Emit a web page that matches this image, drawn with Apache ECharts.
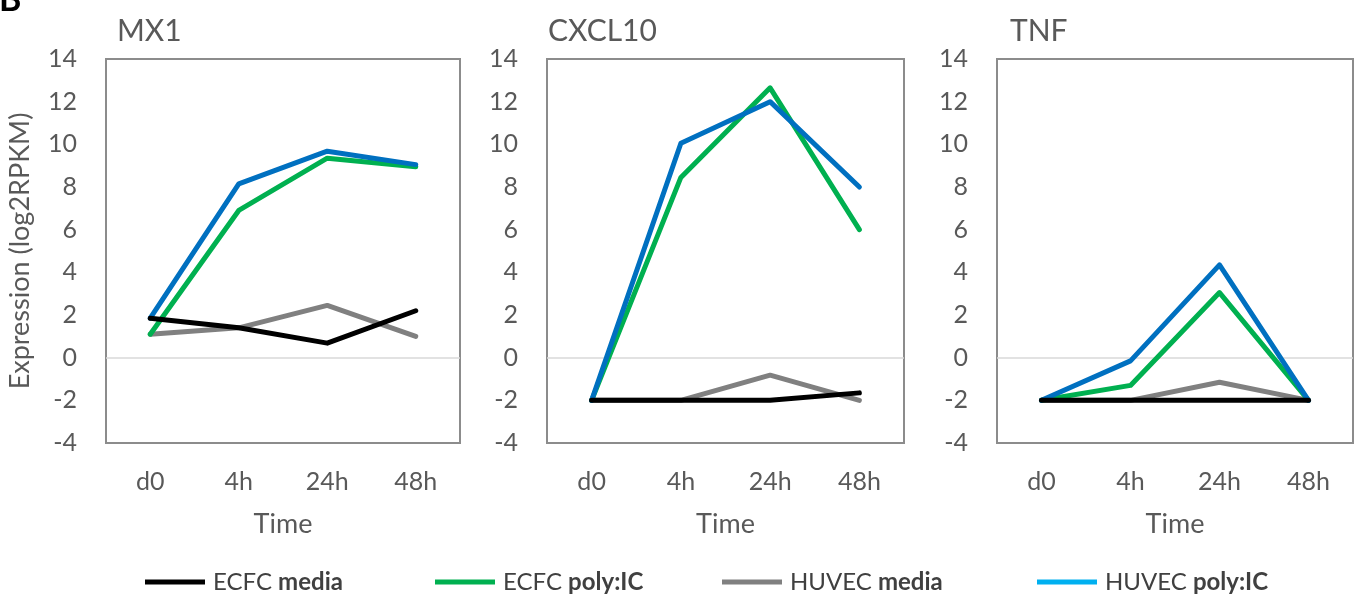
<!DOCTYPE html>
<html>
<head>
<meta charset="utf-8">
<script src="https://cdn.jsdelivr.net/npm/echarts@6/dist/echarts.min.js"></script>
<style>
  html, body { margin: 0; padding: 0; background: #fff; }
  #chart { width: 1354px; height: 599px; }
</style>
</head>
<body>
<div id="chart"></div>
<script>
// time points and panel titles
const timePoints = ["d0", "4h", "24h", "48h"];
const genes = ["MX1", "CXCL10", "TNF"];

// values per gene: ECFC media, ECFC poly:IC, HUVEC media, HUVEC poly:IC
const mx1EcfcMedia = [1.85, 1.4, 0.68, 2.2];
const mx1EcfcPoly = [1.1, 6.9, 9.35, 8.95];
const mx1HuvecMedia = [1.1, 1.4, 2.45, 1.0];
const mx1HuvecPoly = [1.85, 8.15, 9.68, 9.05];

const cxcl10EcfcMedia = [-2, -2, -2, -1.65];
const cxcl10EcfcPoly = [-2, 8.45, 12.65, 6.0];
const cxcl10HuvecMedia = [-2, -2, -0.82, -2];
const cxcl10HuvecPoly = [-2, 10.05, 12.0, 8.0];

const tnfEcfcMedia = [-2, -2, -2, -2];
const tnfEcfcPoly = [-2, -1.3, 3.05, -2];
const tnfHuvecMedia = [-2, -2, -1.15, -2];
const tnfHuvecPoly = [-2, -0.15, 4.35, -2];

const yTicks = { min: -4, max: 14, interval: 2 };

const seriesNames = ["ECFC media", "ECFC poly:IC", "HUVEC media", "HUVEC poly:IC"];
const lineColors = ["#000000", "#00b050", "#808080", "#0070c0"];
const legendColors = ["#000000", "#00b050", "#808080", "#00b0f0"];
const drawOrder = [4, 2, 1, 3]; // z per series

const panelData = [
  [mx1EcfcMedia, mx1EcfcPoly, mx1HuvecMedia, mx1HuvecPoly],
  [cxcl10EcfcMedia, cxcl10EcfcPoly, cxcl10HuvecMedia, cxcl10HuvecPoly],
  [tnfEcfcMedia, tnfEcfcPoly, tnfHuvecMedia, tnfHuvecPoly],
];

// layout of the three panels
const panelLeft = [106, 547, 997];
const panelWidth = [354, 357, 356];
const panelTop = 59;
const panelHeight = 384;
const textColor = "#595959";
const fontName = "Lato";

const myChart = echarts.init(document.getElementById("chart"));

const grids = [];
const xAxes = [];
const yAxes = [];
const titles = [
  {
    text: "B",
    left: -6,
    top: -22,
    textStyle: { fontSize: 34, fontWeight: "bold", color: "#000", fontFamily: fontName },
  },
];
const series = [];

genes.forEach(function (gene, p) {
  grids.push({
    left: panelLeft[p],
    top: panelTop,
    width: panelWidth[p],
    height: panelHeight,
    show: true,
    borderColor: "#8c8c8c",
    borderWidth: 2,
    backgroundColor: "transparent",
  });
  titles.push({
    text: gene,
    left: panelLeft[p] + (p === 0 ? 6 : p === 1 ? -4 : 8),
    top: 11,
    textStyle: { fontSize: 30, fontWeight: "normal", color: textColor, fontFamily: fontName },
  });
  xAxes.push({
    type: "category",
    gridIndex: p,
    data: timePoints,
    boundaryGap: true,
    axisLine: { show: false },
    axisTick: { show: false },
    axisLabel: { fontSize: 25, color: textColor, margin: 26, fontFamily: fontName },
    name: "Time",
    nameLocation: "middle",
    nameGap: 68,
    nameTextStyle: { fontSize: 27, color: textColor, fontFamily: fontName },
  });
  yAxes.push({
    type: "value",
    gridIndex: p,
    min: yTicks.min,
    max: yTicks.max,
    interval: yTicks.interval,
    axisLine: { show: false },
    axisTick: { show: false },
    splitLine: { show: false },
    axisLabel: { fontSize: 25, color: textColor, margin: 29, fontFamily: fontName },
    name: p === 0 ? "Expression (log2RPKM)" : "",
    nameLocation: "middle",
    nameGap: 72,
    nameTextStyle: { fontSize: 27, color: textColor, fontFamily: fontName },
  });
  seriesNames.forEach(function (name, s) {
    const item = {
      name: name,
      type: "line",
      xAxisIndex: p,
      yAxisIndex: p,
      data: panelData[p][s],
      symbol: "none",
      z: drawOrder[s] + 2,
      color: lineColors[s],
      lineStyle: { width: 5, color: lineColors[s], cap: "round", join: "round" },
      emphasis: { disabled: true },
    };
    if (s === 0) {
      // light zero line
      item.markLine = {
        silent: true,
        symbol: "none",
        label: { show: false },
        lineStyle: { color: "#d9d9d9", width: 1.5, type: "solid" },
        z: 1,
        data: [{ yAxis: 0 }],
      };
    }
    series.push(item);
  });
});

const legendLeft = [140, 430, 717, 1032];
const legends = seriesNames.map(function (name, s) {
  return {
    left: legendLeft[s],
    top: 565,
    icon: "rect",
    itemWidth: 60,
    itemHeight: 5,
    selectedMode: false,
    data: [{ name: name, itemStyle: { color: legendColors[s] } }],
    formatter: function (n) {
      const i = n.indexOf(" ");
      return n.slice(0, i + 1) + "{b|" + n.slice(i + 1) + "}";
    },
    textStyle: {
      fontSize: 24,
      color: "#404040",
      fontFamily: fontName,
      padding: [0, 0, 0, 3],
      rich: {
        b: { fontSize: 24, fontWeight: "bold", color: "#404040", fontFamily: fontName },
      },
    },
  };
});

const option = {
  animation: false,
  title: titles,
  legend: legends,
  grid: grids,
  xAxis: xAxes,
  yAxis: yAxes,
  series: series,
};

myChart.setOption(option);
</script>
</body>
</html>
